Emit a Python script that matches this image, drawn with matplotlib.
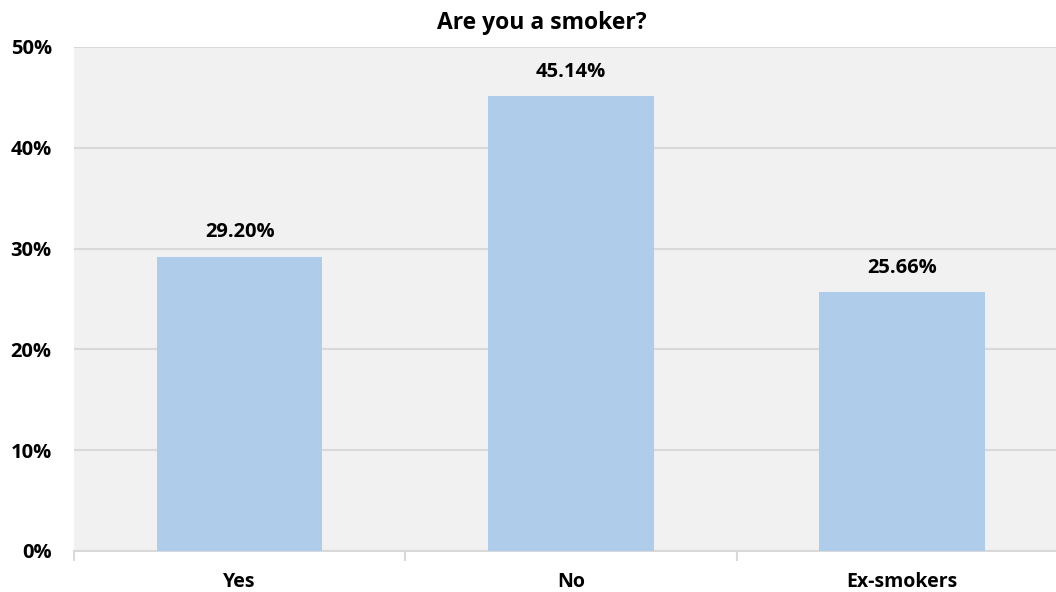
import matplotlib.pyplot as plt
import numpy as np

categories = ['Yes', 'No', 'Ex-smokers']
values = [29.20, 45.14, 25.66]
y_ticks = [0, 10, 20, 30, 40, 50]

plt.rcParams['font.family'] = ['Open Sans', 'DejaVu Sans']

fig = plt.figure(figsize=(10.56, 5.92), dpi=100)
# the plot area runs a little past the right edge of the picture
ax = fig.add_axes([74 / 1056, 41 / 592, (1068 - 74) / 1056, 504 / 592])
ax.set_facecolor('#f1f1f1')

x = np.arange(len(categories))
ax.bar(x, values, width=0.5, color='#afcdea', zorder=3)
for xi, v in zip(x, values):
    ax.text(xi, v + 2.4, '%.2f%%' % v, ha='center', va='center',
            fontsize=14.5, fontweight='bold', color='black', zorder=4)

ax.set_xlim(-0.5, len(categories) - 0.5)
ax.set_ylim(0, 50)
ax.set_yticks(y_ticks)
ax.set_yticklabels(['%d%%' % t for t in y_ticks], fontsize=14.5, fontweight='bold')
ax.yaxis.grid(True, color='#d9d9d9', linewidth=1.5, zorder=0)
ax.tick_params(axis='y', length=0, pad=16)

ax.set_xticks(x)
ax.set_xticklabels(categories, fontsize=14, fontweight='bold')
ax.set_xticks(np.arange(len(categories) + 1) - 0.5, minor=True)
ax.tick_params(axis='x', which='major', length=0, pad=15)
ax.tick_params(axis='x', which='minor', length=7, color='#d9d9d9', width=1.5)

for s in ['top', 'right', 'left']:
    ax.spines[s].set_visible(False)
ax.spines['bottom'].set_color('#d9d9d9')
ax.spines['bottom'].set_linewidth(1.5)

fig.text(542 / 1056, 1 - 23 / 592, 'Are you a smoker?', ha='center', va='center',
         fontsize=16.5, fontweight='bold')

fig.savefig('out.png', dpi=100)
